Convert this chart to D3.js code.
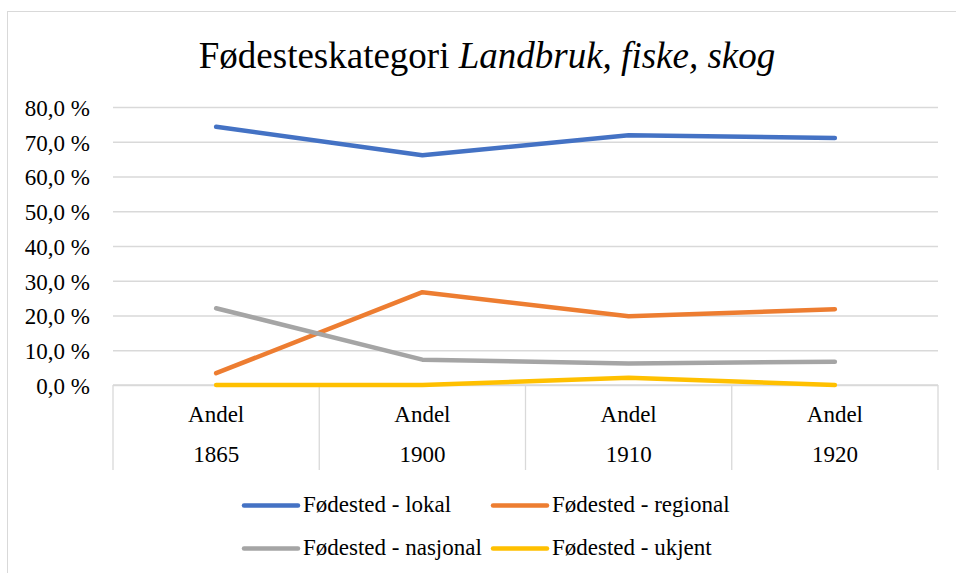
<!DOCTYPE html>
<html>
<head>
<meta charset="utf-8">
<script src="https://cdn.jsdelivr.net/npm/d3@7/dist/d3.min.js"></script>
<style>
  html, body { margin: 0; padding: 0; background: #fff; }
  svg { display: block; }
</style>
</head>
<body>
<svg id="chart" width="956" height="573"></svg>
<script>
// Category axis: two levels ("Andel" over the year)
const years = ["1865", "1900", "1910", "1920"];
const groupLabel = "Andel";

// Series values, share in percent
const seriesNames = ["Fødested - lokal", "Fødested - regional", "Fødested - nasjonal", "Fødested - ukjent"];
const lokal    = [74.3, 66.1, 71.9, 71.1];
const regional = [3.4, 26.7, 19.8, 21.8];
const nasjonal = [22.1, 7.3, 6.2, 6.7];
const ukjent   = [0.0, 0.0, 2.1, 0.0];
const colors   = ["#4472C4", "#ED7D31", "#A5A5A5", "#FFC000"];

// Value axis ticks
const yTicks = [0, 10, 20, 30, 40, 50, 60, 70, 80];

const seriesValues = [lokal, regional, nasjonal, ukjent];

const FONT = "Liberation Serif";
// Apply the serif face and size straight onto a text selection
const serif = (sel, size) => sel
  .attr("font-family", FONT)
  .attr("font-size", size)
  .attr("fill", "#000");

const svg = d3.select("#chart");
const W = 956, H = 573;
const plot = { left: 113, right: 938, top: 107, bottom: 385 };

// Chart area frame
svg.append("rect")
  .attr("x", 7.5).attr("y", 11.5)
  .attr("width", W + 10).attr("height", H + 10)
  .attr("fill", "#fff").attr("stroke", "#d9d9d9").attr("stroke-width", 1);

const x = d3.scaleBand().domain(years).range([plot.left, plot.right]).padding(0);
const y = d3.scaleLinear().domain([0, 80]).range([plot.bottom, plot.top]);

const nb = d3.formatLocale({ decimal: ",", thousands: "\u00a0", grouping: [3], currency: ["", " kr"] });
const fmt = v => nb.format(".1f")(v) + " %";

// Title
const title = svg.append("text")
  .attr("x", 487).attr("y", 68)
  .attr("text-anchor", "middle")
  .call(serif, 37);
title.append("tspan").attr("font-family", FONT).text("Fødesteskategori ");
title.append("tspan").attr("font-family", FONT).attr("font-style", "italic").text("Landbruk, fiske, skog");

// Gridlines and value labels
const yAxis = d3.axisLeft(y).tickValues(yTicks).tickFormat(fmt)
  .tickSize(-(plot.right - plot.left)).tickPadding(23);
const gy = svg.append("g").attr("transform", `translate(${plot.left},0)`).call(yAxis);
gy.select(".domain").remove();
gy.selectAll(".tick line").attr("stroke", "#d9d9d9").attr("stroke-width", 1.3);
gy.selectAll(".tick text")
  .call(serif, 23)
  .attr("dy", "0.36em");

// Multi-level category axis
const axisBottom = 470;
const gx = svg.append("g");
gx.append("line")
  .attr("x1", plot.left).attr("x2", plot.right)
  .attr("y1", plot.bottom).attr("y2", plot.bottom)
  .attr("stroke", "#d9d9d9").attr("stroke-width", 1.3);
const bounds = years.map(d => x(d)).concat([x(years[years.length - 1]) + x.bandwidth()]);
gx.selectAll("line.sep").data(bounds).join("line")
  .attr("class", "sep")
  .attr("x1", d => d).attr("x2", d => d)
  .attr("y1", plot.bottom).attr("y2", axisBottom)
  .attr("stroke", "#d9d9d9").attr("stroke-width", 1.3);
gx.selectAll("text.grp").data(years).join("text")
  .attr("class", "grp")
  .attr("x", d => x(d) + x.bandwidth() / 2).attr("y", 421.5)
  .attr("text-anchor", "middle")
  .call(serif, 23)
  .text(groupLabel);
gx.selectAll("text.yr").data(years).join("text")
  .attr("class", "yr")
  .attr("x", d => x(d) + x.bandwidth() / 2).attr("y", 461.5)
  .attr("text-anchor", "middle")
  .call(serif, 23)
  .text(d => d);

// Lines
const line = d3.line()
  .x((d, i) => x(years[i]) + x.bandwidth() / 2)
  .y(d => y(d));
svg.append("g").selectAll("path").data(seriesValues).join("path")
  .attr("d", d => line(d))
  .attr("fill", "none")
  .attr("stroke", (d, i) => colors[i])
  .attr("stroke-width", 4.5)
  .attr("stroke-linecap", "round")
  .attr("stroke-linejoin", "round");

// Legend
const legendPos = [[243, 505.5], [492, 505.5], [243, 548.5], [492, 548.5]];
const lg = svg.append("g")
  .selectAll("g").data(seriesNames).join("g")
  .attr("transform", (d, i) => `translate(${legendPos[i][0]},${legendPos[i][1]})`);
lg.append("line")
  .attr("x1", 1).attr("x2", 55).attr("y1", 0).attr("y2", 0)
  .attr("stroke", (d, i) => colors[i])
  .attr("stroke-width", 4.5).attr("stroke-linecap", "round");
lg.append("text")
  .attr("x", 60).attr("y", 0).attr("dy", "0.3em")
  .call(serif, 23)
  .text(d => d);
</script>
</body>
</html>
